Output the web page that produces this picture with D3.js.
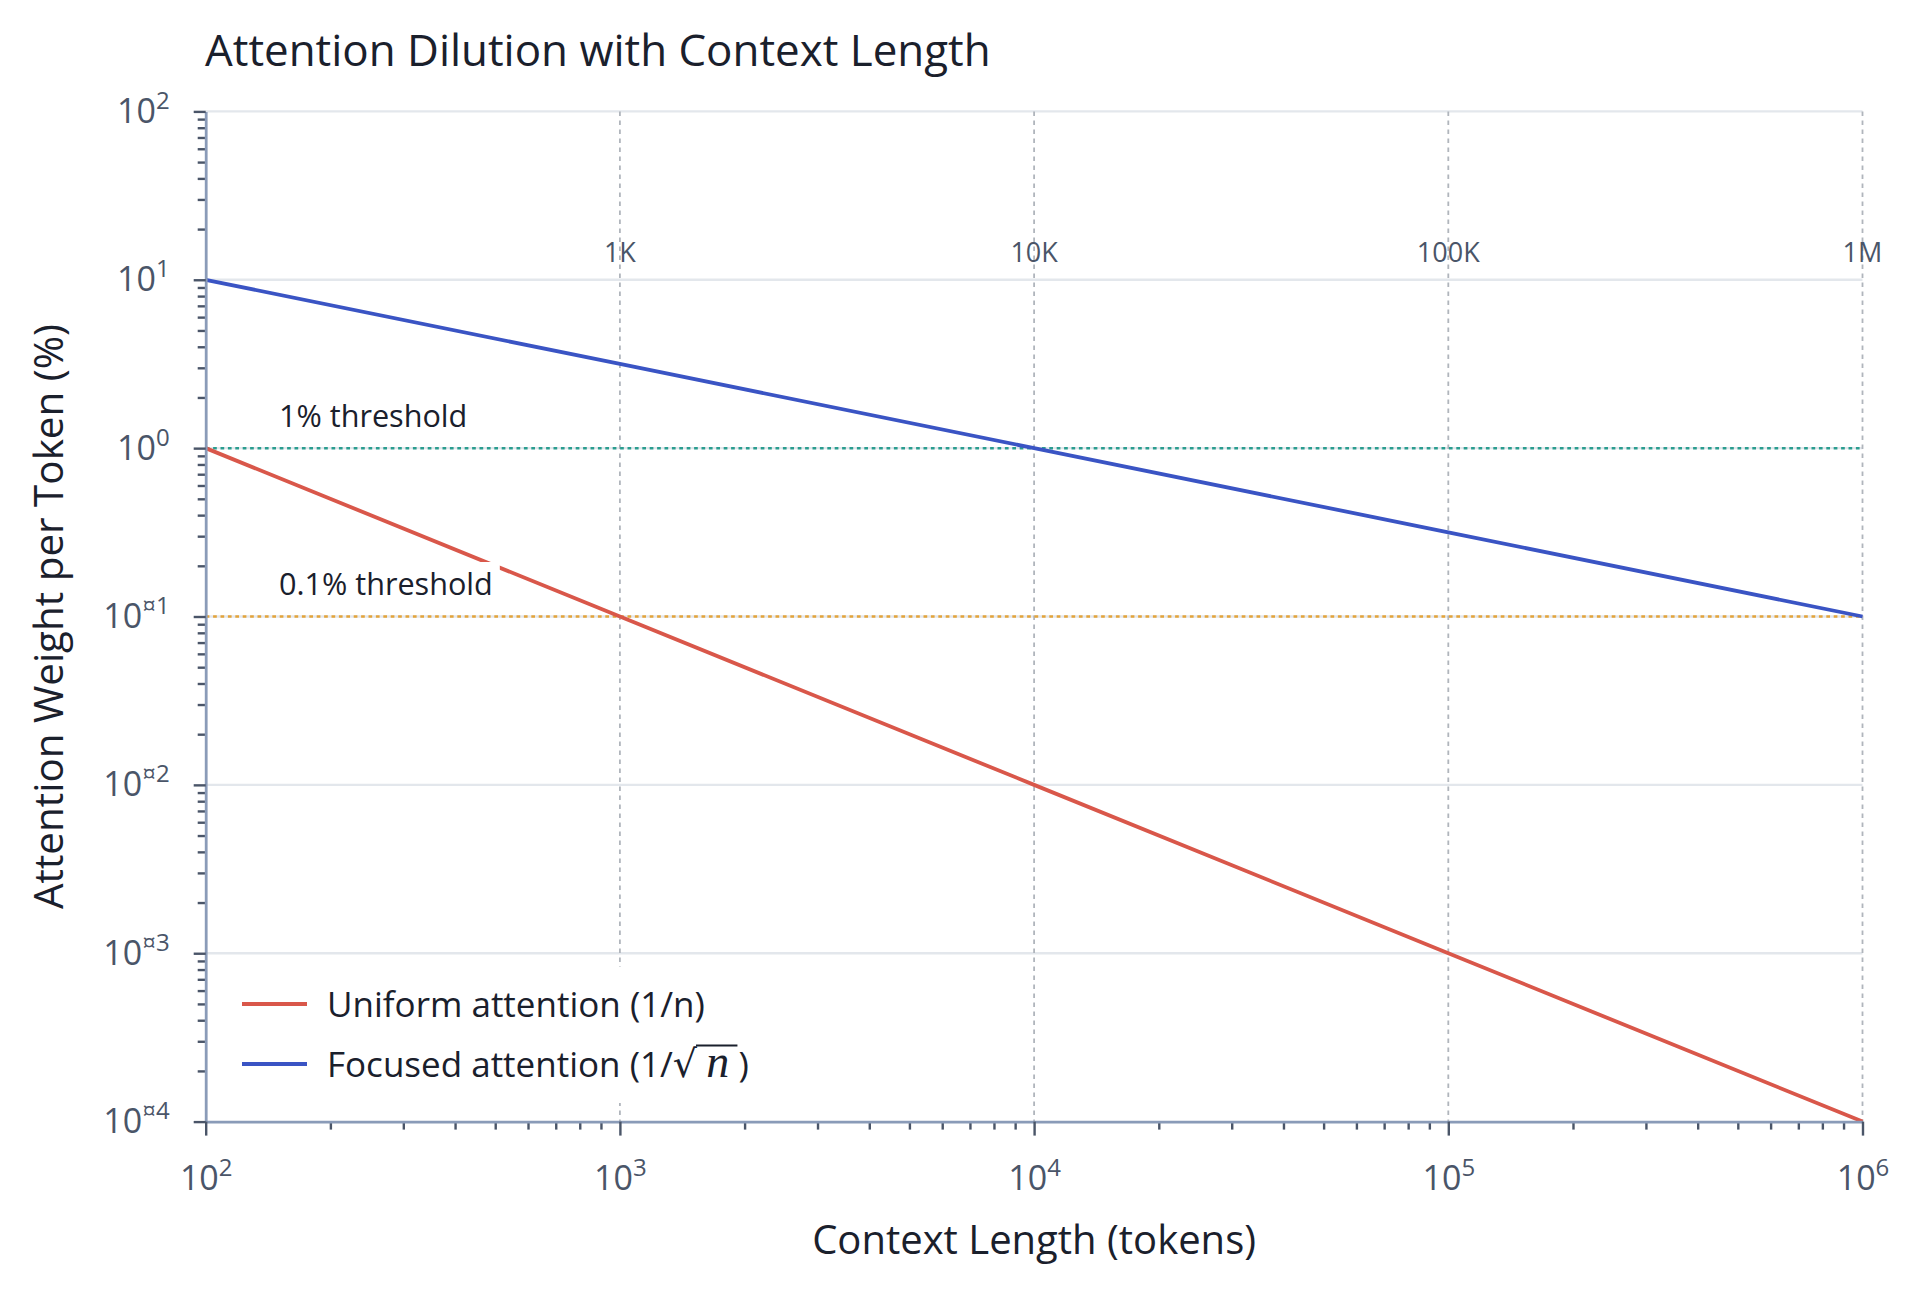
<!DOCTYPE html>
<html>
<head>
<meta charset="utf-8">
<script src="https://cdn.jsdelivr.net/npm/d3@7"></script>
<style>
  body { margin: 0; background: #fff; }
  svg { display: block; font-family: "Open Sans", "Noto Sans", sans-serif; }
  .axis .domain { stroke: #8a9bb8; stroke-width: 2.8; }
  .axis .tick line { stroke: #4a5568; stroke-width: 2.4; }
  .axis .tick text { fill: #4a5568; }
</style>
</head>
<body>
<div id="chart"></div>
<script>
// context length (tokens) read at each decade
const contextLengths = [1e2, 1e3, 1e4, 1e5, 1e6];
// attention weight per token, in %
const uniformPct = [1, 0.1, 0.01, 0.001, 0.0001];
const focusedPct = [10, 3.162, 1, 0.3162, 0.1];

const seriesNames = ["Uniform attention (1/n)", "Focused attention (1/"];
const seriesColors = ["#d9574a", "#3a54c4"];

const thresholdValues = [1, 0.1];
const thresholdLabels = ["1% threshold", "0.1% threshold"];
const thresholdColors = ["#2a9d8f", "#e4a43a"];

const markerValues = [1e3, 1e4, 1e5, 1e6];
const markerLabels = ["1K", "10K", "100K", "1M"];

const xDomain = [1e2, 1e6];
const yDomain = [1e-4, 1e2];

const W = 1920, H = 1292;
const margin = {t: 111.4, l: 205.7, r: 57.5, b: 170.4};
const width = W - margin.l - margin.r;
const height = H - margin.t - margin.b;

const svg = d3.select("#chart").append("svg")
    .attr("width", W)
    .attr("height", H);

const x = d3.scaleLog().domain(xDomain).range([0, width]);
const y = d3.scaleLog().domain(yDomain).range([height, 0]);

const isMajor = d => Math.abs(Math.log10(d) - Math.round(Math.log10(d))) < 1e-9;
const xMajor = x.ticks().filter(isMajor);
const xMinor = x.ticks().filter(d => !isMajor(d));
const yMajor = y.ticks().filter(isMajor);
const yMinor = y.ticks().filter(d => !isMajor(d));

// exponent as it shows in the picture (minus came out as ¤)
const expText = d => {
    const e = Math.round(Math.log10(d));
    return e < 0 ? "\u00a4" + (-e) : String(e);
};

const plot = svg.append("g").attr("transform", `translate(${margin.l},${margin.t})`);

// horizontal grid
plot.append("g").selectAll("line")
    .data(yMajor.filter(d => d > yDomain[0]))
    .join("line")
    .attr("x1", 0).attr("x2", width)
    .attr("y1", d => y(d)).attr("y2", d => y(d))
    .attr("stroke", "#e3e7ec")
    .attr("stroke-width", 2.4);

// vertical dashed markers
plot.append("g").selectAll("line")
    .data(markerValues)
    .join("line")
    .attr("x1", d => x(d)).attr("x2", d => x(d))
    .attr("y1", 0).attr("y2", height)
    .attr("stroke", "#b0b5bc")
    .attr("stroke-width", 1.8)
    .attr("stroke-dasharray", "4.5,4.5");

plot.append("g").selectAll("text")
    .data(markerValues)
    .join("text")
    .attr("x", d => x(d))
    .attr("y", 150.5)
    .attr("text-anchor", "middle")
    .attr("font-size", 27)
    .attr("fill", "#4a5568")
    .text((d, i) => markerLabels[i]);

// threshold lines
plot.append("g").selectAll("line")
    .data(thresholdValues)
    .join("line")
    .attr("x1", 0).attr("x2", width)
    .attr("y1", d => y(d)).attr("y2", d => y(d))
    .attr("stroke", (d, i) => thresholdColors[i])
    .attr("stroke-width", 2.5)
    .attr("stroke-dasharray", "3.7,3.7");

// series
const line = d3.line()
    .x(d => x(d[0]))
    .y(d => y(d[1]));

const series = [
    d3.zip(contextLengths, uniformPct),
    d3.zip(contextLengths, focusedPct)
];

plot.append("g").selectAll("path")
    .data(series)
    .join("path")
    .attr("d", line)
    .attr("fill", "none")
    .attr("stroke", (d, i) => seriesColors[i])
    .attr("stroke-width", 3.8);

// threshold labels with white box
const thr = plot.append("g").selectAll("g")
    .data(thresholdValues)
    .join("g");

thr.append("rect").attr("fill", "#fff");
thr.append("text")
    .attr("x", 279 - margin.l)
    .attr("y", d => y(d) - 21.5)
    .attr("font-size", 30.6)
    .attr("fill", "#1a202c")
    .text((d, i) => thresholdLabels[i]);

thr.each(function() {
    const g = d3.select(this);
    const b = g.select("text").node().getBBox();
    g.select("rect")
        .attr("x", b.x - 7).attr("y", b.y)
        .attr("width", b.width + 14).attr("height", b.height);
});

// legend
const legend = plot.append("g").attr("transform", `translate(${242 - margin.l},${1004 - margin.t})`);
legend.append("rect")
    .attr("x", -14).attr("y", -37)
    .attr("width", 532).attr("height", 136)
    .attr("fill", "#fff");

const item = legend.selectAll("g")
    .data(seriesNames)
    .join("g")
    .attr("transform", (d, i) => `translate(0,${i * 60})`);

item.append("line")
    .attr("x1", 0).attr("x2", 65)
    .attr("stroke", (d, i) => seriesColors[i])
    .attr("stroke-width", 3.8);

const itemText = item.append("text")
    .attr("x", 85)
    .attr("y", 13)
    .attr("font-size", 35)
    .attr("fill", "#1a202c");

itemText.append("tspan").text(d => d);

// 1/sqrt(n) for the second entry
const sq = d3.select(itemText.nodes()[1]);
sq.append("tspan")
    .attr("font-family", "DejaVu Sans")
    .attr("font-size", 38)
    .text("\u221a");
sq.append("tspan")
    .attr("font-family", "Liberation Serif")
    .attr("font-style", "italic")
    .attr("font-size", 46)
    .text("\u2009n\u2009");
sq.append("tspan").text(")");

{
    const node = sq.node();
    const n = node.getNumberOfChars();
    const rad = node.getExtentOfChar(n - 5);
    const close = node.getExtentOfChar(n - 1);
    d3.select(node.parentNode).append("line")
        .attr("x1", rad.x + rad.width - 1)
        .attr("x2", close.x - 1)
        .attr("y1", -18.5).attr("y2", -18.5)
        .attr("stroke", "#1a202c")
        .attr("stroke-width", 2.2);
}

// axes
const fmtSup = function(d) {
    const t = d3.select(this).text(null);
    t.append("tspan").text("10");
    t.append("tspan")
        .attr("dy", -14)
        .attr("font-size", 24)
        .text(expText(d));
};

const styleAxis = g => g
    .attr("font-size", 34)
    .attr("font-family", null);

plot.append("g")
    .attr("class", "axis")
    .call(d3.axisLeft(y).tickValues(yMinor).tickSize(8).tickFormat(""))
    .call(g => g.select(".domain").remove());

plot.append("g")
    .attr("class", "axis")
    .attr("transform", `translate(0,${height})`)
    .call(d3.axisBottom(x).tickValues(xMinor).tickSize(8).tickFormat(""))
    .call(g => g.select(".domain").remove());

plot.append("g")
    .attr("class", "axis")
    .call(d3.axisLeft(y).tickValues(yMajor).tickSize(12).tickSizeOuter(0).tickPadding(24))
    .call(styleAxis)
    .call(g => g.selectAll(".tick text").each(fmtSup));

plot.append("g")
    .attr("class", "axis")
    .attr("transform", `translate(0,${height})`)
    .call(d3.axisBottom(x).tickValues(xMajor).tickSize(14).tickSizeOuter(0).tickPadding(30))
    .call(styleAxis)
    .call(g => g.selectAll(".tick text").each(fmtSup));

// titles
svg.append("text")
    .attr("x", 205)
    .attr("y", 66)
    .attr("font-size", 43.9)
    .attr("fill", "#1a202c")
    .text("Attention Dilution with Context Length");

svg.append("text")
    .attr("transform", `translate(63,${margin.t + height / 2}) rotate(-90)`)
    .attr("text-anchor", "middle")
    .attr("font-size", 40.4)
    .attr("fill", "#1a202c")
    .text("Attention Weight per Token (%)");

svg.append("text")
    .attr("x", margin.l + width / 2)
    .attr("y", 1254)
    .attr("text-anchor", "middle")
    .attr("font-size", 40)
    .attr("fill", "#1a202c")
    .text("Context Length (tokens)");
</script>
</body>
</html>
